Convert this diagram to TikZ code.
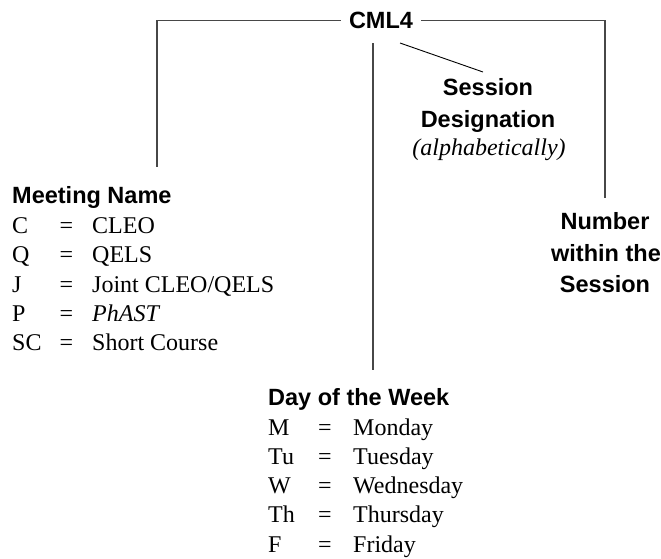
\documentclass[tikz,border=0pt]{standalone}
\usepackage{fontspec}
\setmainfont{Liberation Serif}
\newfontfamily\headfont{Liberation Sans}
\begin{document}
\begin{tikzpicture}[x=1pt,y=-1pt]
\tikzset{
  head/.style={font=\headfont\bfseries\fontsize{23.5}{26}\selectfont, inner sep=0pt, anchor=base},
  body/.style={font=\fontsize{24}{28}\selectfont, inner sep=0pt, anchor=base west},
  eqs/.style={font=\fontsize{24}{28}\selectfont, inner sep=0pt, anchor=base},
  conn/.style={draw=black!72, line width=1.4pt},
  diag/.style={draw=black, line width=0.9pt}
}
\useasboundingbox (0,0) rectangle (661,558);
% code
\node[head, inner xsep=8pt, inner ysep=14.7pt] (cml) at (381,28.3) {CML4};
% headings
\node[head, anchor=base west] (meet) at (12,203) {Meeting Name};
\node[head, anchor=base west] (day) at (268,405) {Day of the Week};
\node[head, inner ysep=6pt] (ses) at (488,95) {Session};
\node[head] (des) at (488,127) {Designation};
\node[body, anchor=base, font=\fontsize{24}{28}\selectfont\itshape] (alph) at (489,155) {(alphabetically)};
\node[head] (num) at (605,229) {Number};
\node[head] (within) at (606,261) {within the};
\node[head] (nses) at (605,292) {Session};
% meeting list
\foreach \i/\c/\v/\yy in {1/C/CLEO/233, 2/Q/QELS/262.5, 3/J/Joint CLEO\slash QELS/292, 4/P/\textit{PhAST}/321.5, 5/SC/Short Course/350.5}{
  \node[body] (mc\i) at (12,\yy) {\c};
  \node[eqs] (me\i) at (66.5,\yy) {=};
  \node[body] (mv\i) at (92,\yy) {\v};
}
% day list
\foreach \i/\c/\v/\yy in {1/M/Monday/435, 2/Tu/Tuesday/464.5, 3/W/Wednesday/493.5, 4/Th/Thursday/522.5, 5/F/Friday/552}{
  \node[body] (dc\i) at (268,\yy) {\c};
  \node[eqs] (de\i) at (325,\yy) {=};
  \node[body] (dv\i) at (353,\yy) {\v};
}
% connector ends
\coordinate (mtop) at (157,167);
\coordinate (ntop) at (605,198);
\coordinate (dbot) at (373,370);
\coordinate (sdstart) at (400,43);
\coordinate (sdend) at (483,72);
% connectors
\draw[conn] (cml.west) -| (mtop);
\draw[conn] (cml.east) -| (ntop);
\draw[conn] (cml.south -| dbot) -- (dbot);
\draw[diag] (sdstart) -- (sdend);
\end{tikzpicture}
\end{document}
